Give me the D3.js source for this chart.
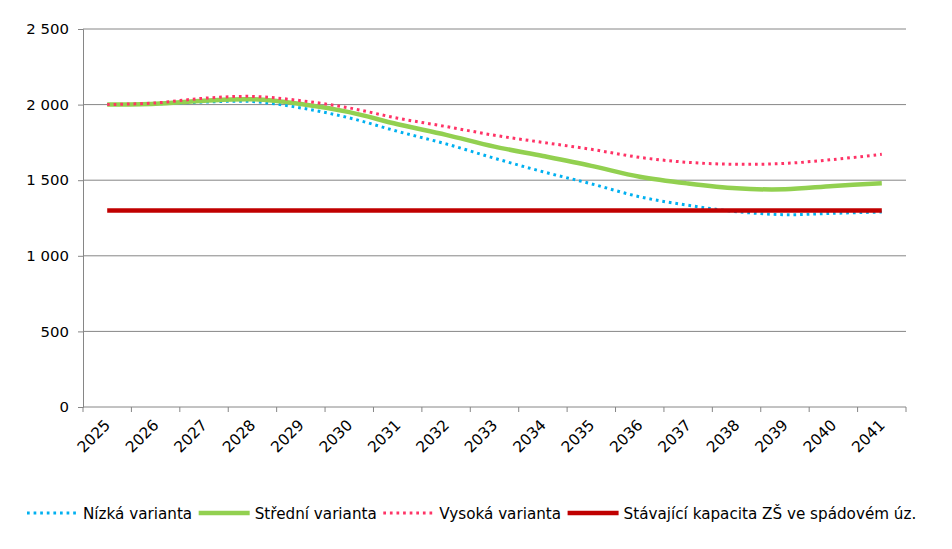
<!DOCTYPE html>
<html>
<head>
<meta charset="utf-8">
<script src="https://cdn.jsdelivr.net/npm/d3@7"></script>
<style>
  body { margin: 0; background: #fff; }
  text { font-family: "DejaVu Sans", Verdana, sans-serif; fill: #000; }
</style>
</head>
<body>
<div id="chart"></div>
<script>
var years = ["2025", "2026", "2027", "2028", "2029", "2030", "2031", "2032", "2033",
             "2034", "2035", "2036", "2037", "2038", "2039", "2040", "2041"];
var nizka = [2000, 2004, 2017, 2020, 1978, 1912, 1823, 1740, 1645, 1556, 1476, 1390, 1334, 1292, 1272, 1281, 1290];
var stredni = [2000, 2006, 2026, 2035, 2004, 1950, 1870, 1800, 1722, 1660, 1595, 1523, 1478, 1446, 1440, 1462, 1480];
var vysoka = [2000, 2011, 2042, 2054, 2026, 1978, 1910, 1855, 1797, 1750, 1704, 1651, 1618, 1605, 1611, 1637, 1671];
var kapacita = [1300, 1300, 1300, 1300, 1300, 1300, 1300, 1300, 1300, 1300, 1300, 1300, 1300, 1300, 1300, 1300, 1300];
var yTicks = [0, 500, 1000, 1500, 2000, 2500];

var width = 952, height = 549;
var plotLeft = 83, plotRight = 906, plotTop = 29, plotBottom = 407;
var gridColor = "#868686";
var fs = 14.9;

var svg = d3.select("#chart").append("svg")
    .attr("width", width)
    .attr("height", height);

var x = d3.scaleBand().domain(years).range([plotLeft, plotRight]).padding(0);
var y = d3.scaleLinear().domain([0, 2500]).range([plotBottom, plotTop]);
var cx = function (d) { return x(d) + x.bandwidth() / 2; };

// grid lines
svg.append("g").selectAll("line")
    .data(yTicks.filter(function (d) { return d > 0; }))
    .enter().append("line")
    .attr("x1", plotLeft).attr("x2", plotRight)
    .attr("y1", function (d) { return y(d); })
    .attr("y2", function (d) { return y(d); })
    .attr("stroke", gridColor).attr("stroke-width", 1);

// y axis
var yAxis = d3.axisLeft(y).tickValues(yTicks).tickSize(5).tickPadding(9)
    .tickFormat(function (d) { return d3.format(",")(d).replace(",", " "); });
var gy = svg.append("g").attr("transform", "translate(" + plotLeft + ",0)").call(yAxis);
gy.select(".domain").attr("stroke", gridColor);
gy.selectAll(".tick line").attr("stroke", gridColor);
gy.selectAll(".tick text").style("font-size", fs + "px").attr("fill", "#000")
    .style("font-family", "'DejaVu Sans', Verdana, sans-serif");

// x axis line and ticks at band edges
var gx = svg.append("g");
gx.append("line").attr("x1", plotLeft).attr("x2", plotRight)
    .attr("y1", plotBottom).attr("y2", plotBottom).attr("stroke", gridColor);
var edges = years.map(function (d) { return x(d); }).concat([plotRight]);
gx.selectAll("line.tk").data(edges).enter().append("line")
    .attr("class", "tk")
    .attr("x1", function (d) { return d; }).attr("x2", function (d) { return d; })
    .attr("y1", plotBottom).attr("y2", plotBottom + 5)
    .attr("stroke", gridColor);
gx.selectAll("text").data(years).enter().append("text")
    .attr("transform", function (d) { return "translate(" + (cx(d) + 4) + "," + (plotBottom + 19) + ") rotate(-45)"; })
    .attr("text-anchor", "end")
    .style("font-size", "15.3px")
    .text(function (d) { return d; });

// series
var series = [
    { name: "Nízká varianta", values: nizka, color: "#00b0f0", width: 3, dash: "2.7 3.9", smooth: true },
    { name: "Střední varianta", values: stredni, color: "#92d050", width: 4.5, dash: null, smooth: true },
    { name: "Vysoká varianta", values: vysoka, color: "#ff3366", width: 3, dash: "2.7 3.9", smooth: true },
    { name: "Stávající kapacita ZŠ ve spádovém úz.", values: kapacita, color: "#c00000", width: 4.5, dash: null, smooth: false }
];

var lineGen = function (smooth) {
    return d3.line()
        .x(function (d, i) { return cx(years[i]); })
        .y(function (d) { return y(d); })
        .curve(smooth ? d3.curveCatmullRom.alpha(0) : d3.curveLinear);
};

// series order, later ones on top (capacity line covers the low variant)
series.forEach(function (s) {
    svg.append("path")
        .datum(s.values)
        .attr("d", lineGen(s.smooth))
        .attr("fill", "none")
        .attr("stroke", s.color)
        .attr("stroke-width", s.width)
        .attr("stroke-dasharray", s.dash);
});

// legend
var lg = svg.append("g").attr("transform", "translate(0,513)");
var lx = 27;
series.forEach(function (s) {
    lg.append("line")
        .attr("x1", lx).attr("x2", lx + 51)
        .attr("y1", 0).attr("y2", 0)
        .attr("stroke", s.color)
        .attr("stroke-width", s.width)
        .attr("stroke-dasharray", s.dash);
    var t = lg.append("text")
        .attr("x", lx + 56).attr("y", 5.5)
        .style("font-size", "15.2px")
        .text(s.name);
    lx = lx + 56 + t.node().getComputedTextLength() + 6.5;
});
</script>
</body>
</html>
